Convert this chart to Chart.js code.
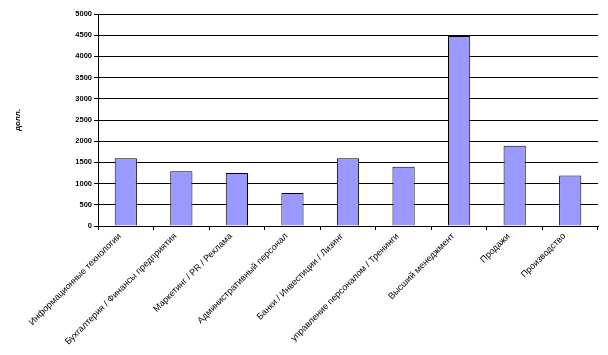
<!DOCTYPE html>
<html><head><meta charset="utf-8">
<script src="https://cdn.jsdelivr.net/npm/chart.js@4/dist/chart.umd.min.js"></script>
<style>html,body{margin:0;padding:0;background:#fff}#w{width:608px;height:355px}</style>
</head><body><div id="w"><canvas id="c"></canvas></div>
<script>
const categories = ["Информационные технологии","Бухгалтерия / Финансы предприятия","Маркетинг / PR / Реклама","Административный персонал","Банки / Инвестиции / Лизинг","управление персоналом / Тренинги","Высший менеджмент","Продажи","Производство"];
const salaries = [1600, 1290, 1250, 780, 1600, 1400, 4480, 1890, 1190];
const yTicks = [0,500,1000,1500,2000,2500,3000,3500,4000,4500,5000];
const yTitle = "долл.";

new Chart(document.getElementById('c'), {
  type: 'bar',
  data: { labels: categories, datasets: [{ data: salaries, backgroundColor: '#9999FF', borderColor: '#000', borderWidth: 1, barPercentage: 1, categoryPercentage: 0.4 }] },
  options: {
    responsive: true, maintainAspectRatio: false, animation: false,
    layout: { padding: { top: 14, right: 10, left: 0, bottom: 0 } },
    plugins: { legend: { display: false }, tooltip: { enabled: false } },
    scales: {
      x: {
        grid: { display: true, drawOnChartArea: false, offset: true, color: '#000', tickLength: 4, lineWidth: 1 },
        border: { color: '#000', width: 1 },
        ticks: { color: '#000', autoSkip: false, maxRotation: 45, minRotation: 45, padding: 1, labelOffset: -6, font: { family: 'Liberation Sans', size: 9 } },
        afterFit: s => { s.height = 129; }
      },
      y: {
        min: 0, max: 5000,
        afterBuildTicks: s => { s.ticks = yTicks.map(v => ({ value: v })); },
        grid: { color: '#000', lineWidth: 1, tickLength: 4 },
        border: { color: '#000', width: 1 },
        ticks: { color: '#000', padding: 2, callback: v => String(v), font: { family: 'Liberation Sans', size: 7.5, weight: 'bold' } },
        title: { display: true, text: yTitle, color: '#000', padding: { top: 13, bottom: 0 }, font: { family: 'Liberation Sans', size: 8, weight: 'bold' } },
        afterFit: s => { s.width = 98; }
      }
    }
  }
});
</script></body></html>
